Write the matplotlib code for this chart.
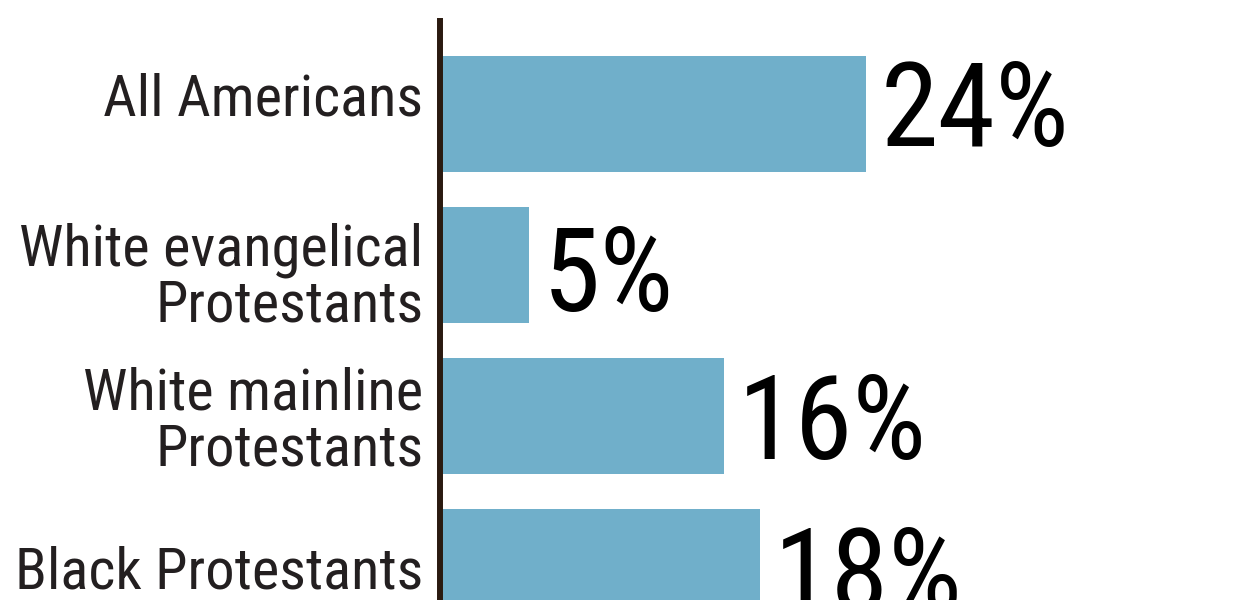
import matplotlib
matplotlib.use("Agg")
import matplotlib.pyplot as plt

categories = ["All Americans", "White evangelical\nProtestants", "White mainline\nProtestants", "Black Protestants"]
values = [24, 5, 16, 18]
value_labels = ["24%", "5%", "16%", "18%"]

FONT = ["Liberation Sans Narrow", "Roboto Condensed", "DejaVu Sans Condensed", "Liberation Sans", "DejaVu Sans"]
BAR_COLOR = "#70afca"
AXIS_COLOR = "#2a1a10"
TEXT_COLOR = "#231f20"

# layout offsets (in bar-pitch units) for the text rows
label_dy = [-0.09, 0.09, 0.045, 0.04]
value_dy = [0.215, 0.31, 0.29, 0.30]

W, H = 1250, 600
fig = plt.figure(figsize=(W / 100, H / 100), dpi=100)
fig.patch.set_facecolor("white")

left_px, top_px = 440, 21
px_per_unit = 17.75
xmax = (W - left_px) / px_per_unit
ax = fig.add_axes([left_px / W, 0, 1 - left_px / W, 1 - top_px / H])

pitch = 151.0
c0 = 113.5
y_top = -(c0 - top_px) / pitch
y_bot = (H - c0) / pitch

pos = list(range(len(categories)))
ax.barh(pos, values, height=116 / pitch, color=BAR_COLOR, edgecolor="none", zorder=1)
ax.set_xlim(0, xmax)
ax.set_ylim(y_bot, y_top)

for s in ["top", "right", "bottom"]:
    ax.spines[s].set_visible(False)
ax.spines["left"].set_linewidth(4.3)
ax.spines["left"].set_color(AXIS_COLOR)
ax.spines["left"].set_zorder(3)
ax.set_xticks([])
ax.set_yticks([])

for i, (cat, v, lab) in enumerate(zip(categories, values, value_labels)):
    ax.text(-0.95, i + label_dy[i], cat, ha="right", va="center", fontsize=42,
            family=FONT, color=TEXT_COLOR, linespacing=1.03)
    ax.text(v + 0.8, i + value_dy[i], lab, ha="left", va="baseline", fontsize=84,
            family=FONT, color="black")

fig.savefig("out.png", dpi=100, facecolor="white")
